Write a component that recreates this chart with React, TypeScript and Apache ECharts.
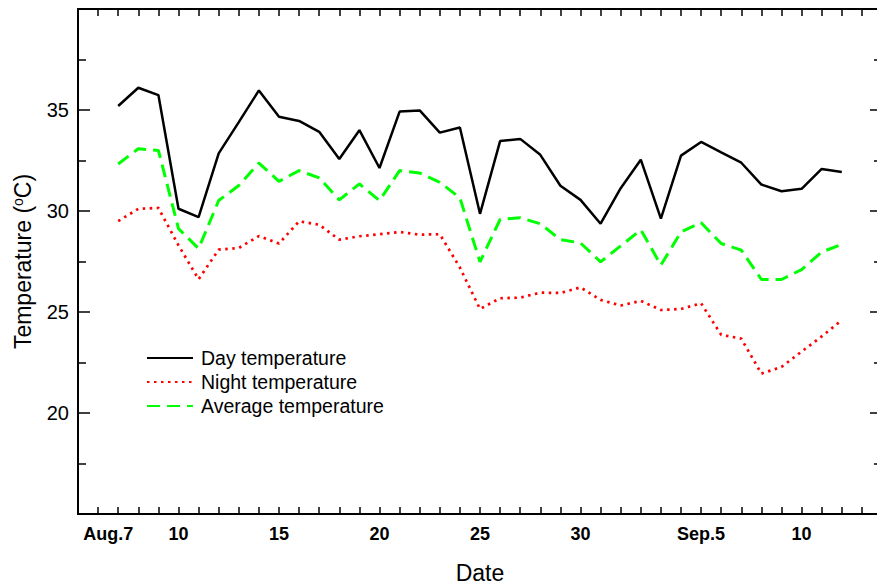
import React, { useEffect, useRef } from "react";
import * as echarts from "echarts";

// Day index 0 = Aug.7 ... 36 = Sep.12
const dayTemp = [35.2, 36.1, 35.74, 30.11, 29.7, 32.85, 34.4, 35.97, 34.67, 34.46, 33.92, 32.57, 34.0, 32.13, 34.92, 34.98, 33.88, 34.13, 29.86, 33.46, 33.57, 32.78, 31.25, 30.55, 29.37, 31.13, 32.54, 29.62, 32.74, 33.42, 32.9, 32.39, 31.31, 30.98, 31.1, 32.08, 31.93];
const nightTemp = [29.5, 30.11, 30.15, 28.3, 26.62, 28.09, 28.17, 28.76, 28.39, 29.49, 29.32, 28.58, 28.75, 28.85, 28.96, 28.83, 28.85, 27.2, 25.15, 25.68, 25.71, 25.96, 25.94, 26.22, 25.6, 25.32, 25.55, 25.1, 25.15, 25.43, 23.87, 23.68, 21.95, 22.28, 23.04, 23.79, 24.6];
const avgTemp = [32.33, 33.08, 33.0, 29.13, 28.14, 30.52, 31.26, 32.37, 31.47, 32.0, 31.64, 30.55, 31.34, 30.52, 32.0, 31.88, 31.42, 30.65, 27.48, 29.58, 29.67, 29.37, 28.58, 28.42, 27.48, 28.27, 29.07, 27.32, 28.96, 29.42, 28.39, 28.06, 26.61, 26.61, 27.1, 27.97, 28.35];

const xLabelIdx = [0, 3, 8, 13, 18, 23, 29, 34];
const xLabelText = ["Aug.7", "10", "15", "20", "25", "30", "Sep.5", "10"];
const yLabelValues = [20, 25, 30, 35];
const seriesNames = ["Day temperature", "Night temperature", "Average temperature"];

const FONT = "'Liberation Sans', Arial, sans-serif";

export default function App() {
  const ref = useRef<HTMLDivElement>(null);
  useEffect(() => {
    if (!ref.current) return;
    const chart = echarts.init(ref.current, null, { renderer: "svg" });
    const toPairs = (arr: number[]) => arr.map((v, i) => [i, v]);
    const baseX = {
      type: "value" as const,
      min: -2,
      max: 38,
      interval: 1,
      splitLine: { show: false },
      axisLine: { show: true, onZero: false, lineStyle: { color: "#000", width: 2 } },
      axisTick: { show: true, inside: true, length: 7, lineStyle: { color: "#000", width: 1.5 } },
    };
    const baseY = {
      type: "value" as const,
      min: 15,
      max: 40,
      interval: 5,
      splitLine: { show: false },
      axisLine: { show: true, onZero: false, lineStyle: { color: "#000", width: 2 } },
      axisTick: { show: true, inside: true, length: 12, lineStyle: { color: "#000", width: 1.5 } },
      minorTick: { show: true, splitNumber: 2, length: 8, lineStyle: { color: "#000", width: 1.5 } },
    };
    chart.setOption({
      animation: false,
      backgroundColor: "#fff",
      grid: { left: 78, top: 9, width: 804, height: 505, containLabel: false, outerBoundsMode: "none" },
      legend: {
        orient: "vertical",
        left: 146,
        top: 348,
        itemWidth: 46,
        itemHeight: 14,
        itemGap: 4,
        padding: 0,
        data: seriesNames,
        itemStyle: { opacity: 0 },
        textStyle: { fontSize: 19.5, fontFamily: FONT, color: "#000", lineHeight: 20, padding: [0, 0, 0, 3] },
      },
      xAxis: [
        {
          ...baseX,
          position: "bottom",
          name: "Date",
          nameLocation: "middle",
          nameGap: 47,
          nameTextStyle: { fontSize: 23, fontFamily: FONT, color: "#000" },
          axisLabel: {
            show: true,
            margin: 11,
            fontSize: 18,
            fontWeight: "bold",
            fontFamily: FONT,
            color: "#000",
            showMinLabel: true,
            showMaxLabel: true,
            formatter: (v: number) => {
              const k = xLabelIdx.indexOf(Math.round(v));
              if (k < 0) return "";
              if (k === 0) return "{shift|" + xLabelText[k] + "}";
              return xLabelText[k];
            },
            rich: {
              shift: { fontSize: 18, fontWeight: "bold", fontFamily: FONT, color: "#000", padding: [0, 20, 0, 0] },
            },
          },
        },
        { ...baseX, position: "top", axisLabel: { show: false } },
      ],
      yAxis: [
        {
          ...baseY,
          position: "left",
          name: "Temperature ({sup|o}C)",
          nameLocation: "middle",
          nameGap: 44,
          nameRotate: 90,
          nameTextStyle: {
            fontSize: 23,
            fontFamily: FONT,
            color: "#000",
            rich: {
              sup: { fontSize: 14, fontFamily: FONT, color: "#000", verticalAlign: "top", padding: [0, 0, 8, 0] },
            },
          },
          axisLabel: {
            show: true,
            margin: 9,
            fontSize: 20,
            fontFamily: FONT,
            color: "#000",
            formatter: (v: number) => (yLabelValues.indexOf(v) >= 0 ? String(v) : ""),
          },
        },
        { ...baseY, position: "right", axisLabel: { show: false } },
      ],
      series: [
        {
          name: seriesNames[0],
          type: "line",
          data: toPairs(dayTemp),
          symbol: "none",
          lineStyle: { color: "#000", width: 2.5, type: "solid" },
          itemStyle: { color: "#000" },
          z: 4,
        },
        {
          name: seriesNames[1],
          type: "line",
          data: toPairs(nightTemp),
          symbol: "none",
          lineStyle: { color: "#ff0000", width: 2.7, type: [2.5, 4.5], cap: "butt" },
          itemStyle: { color: "#ff0000" },
          z: 3,
        },
        {
          name: seriesNames[2],
          type: "line",
          data: toPairs(avgTemp),
          symbol: "none",
          lineStyle: { color: "#00ff00", width: 3, type: [13, 7] },
          itemStyle: { color: "#00ff00" },
          z: 3,
        },
      ],
    });
    return () => chart.dispose();
  }, []);
  return (
    <div
      ref={ref}
      style={{ position: "fixed", left: 0, top: 0, width: 877, height: 585, overflow: "hidden" }}
    />
  );
}
